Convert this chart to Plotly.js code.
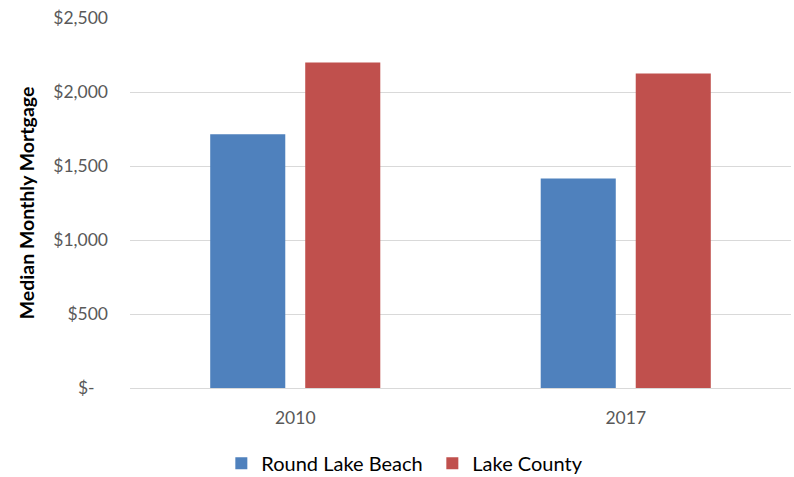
<!DOCTYPE html>
<html>
<head>
<meta charset="utf-8">
<script src="https://cdn.plot.ly/plotly-3.0.1.min.js"></script>
<style>html,body{margin:0;padding:0;background:#fff;}#chart{width:794px;height:477px;}</style>
</head>
<body>
<div id="chart"></div>
<script>
const categories = ["2010", "2017"];
const roundLakeBeach = [1714, 1415];
const lakeCounty = [2200, 2125];
const seriesNames = ["Round Lake Beach", "Lake County"];
const yTickVals = [0, 500, 1000, 1500, 2000, 2500];
const yTickText = ["$-\u00a0\u00a0\u00a0", "$500", "$1,000", "$1,500", "$2,000", "$2,500"];

const fontFam = "Lato, 'Open Sans', sans-serif";
const data = [
  {type: "bar", x: categories, y: roundLakeBeach, name: seriesNames[0],
   marker: {color: "#4F81BD"}},
  {type: "bar", x: categories, y: lakeCounty, name: seriesNames[1],
   marker: {color: "#C0504D"}}
];
const layout = {
  width: 794, height: 477,
  margin: {l: 130, r: 3, t: 17.5, b: 89, autoexpand: false},
  paper_bgcolor: "#fff", plot_bgcolor: "#fff",
  barmode: "group", bargap: 0.425, bargroupgap: 0.21,
  font: {family: fontFam, size: 17.5, color: "#595959"},
  xaxis: {
    type: "category", showgrid: false, zeroline: false,
    showline: true, linecolor: "#D9D9D9", linewidth: 1,
    ticks: "", ticklabelstandoff: 14,
    tickfont: {family: fontFam, size: 17.5, color: "#595959"}
  },
  yaxis: {
    range: [0, 2500], tickvals: yTickVals, ticktext: yTickText,
    showgrid: true, gridcolor: "#D9D9D9", gridwidth: 1, zeroline: false,
    showline: false, ticks: "", ticklabelstandoff: 21,
    tickfont: {family: fontFam, size: 17.5, color: "#595959"},
    title: {text: "Median Monthly Mortgage", standoff: 13,
            font: {family: fontFam, size: 19.5, color: "#000", weight: "bold"}}
  },
  showlegend: true,
  legend: {orientation: "h", x: 0.5445, xref: "container", xanchor: "center",
           y: 0.029, yref: "container", yanchor: "middle",
           font: {family: fontFam, size: 20, color: "#000"}, itemwidth: 30,
           entrywidth: 166, entrywidthmode: "pixels",
           traceorder: "normal"},
  hovermode: false
};
Plotly.newPlot("chart", data, layout, {displayModeBar: false, staticPlot: true});
</script>
</body>
</html>
